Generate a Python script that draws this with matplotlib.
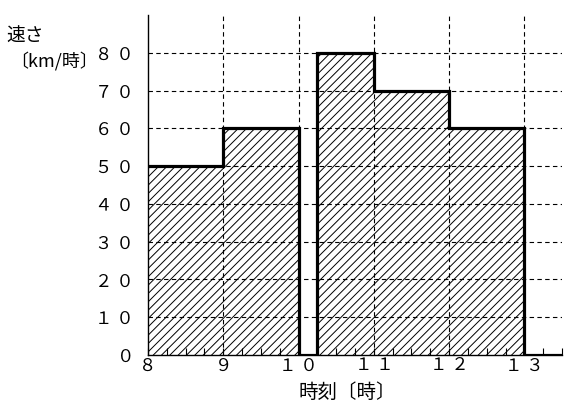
import numpy as np
import matplotlib
matplotlib.use("Agg")
import matplotlib.pyplot as plt
from matplotlib.ticker import MultipleLocator

plt.rcParams['font.family'] = ['Noto Sans CJK JP', 'DejaVu Sans']
plt.rcParams['hatch.linewidth'] = 0.7

# data
edges = [8, 9, 10, 10.25, 11, 12, 13, 13.5]
speeds = [50, 60, 0, 80, 70, 60, 0]
x_ticks = [8, 9, 10, 11, 12, 13]
x_labels = ['８', '９', '１ ０', '１ １', '１ ２', '１ ３']
y_ticks = [0, 10, 20, 30, 40, 50, 60, 70, 80]
y_labels = ['０', '１ ０', '２ ０', '３ ０', '４ ０', '５ ０', '６ ０', '７ ０', '８ ０']

W, H = 574, 411
fig = plt.figure(figsize=(W / 100, H / 100), dpi=100)
ax = fig.add_axes([148 / W, (H - 355) / H, (562 - 148) / W, (355 - 15) / H])

ax.set_xlim(8, 13.5)
ax.set_ylim(0, 90)

widths = np.diff(edges)
ax.bar(edges[:-1], speeds, width=widths, align='edge', fill=False,
       hatch='////', linewidth=0, edgecolor='black', zorder=1)
ax.stairs(speeds, edges, baseline=None, color='black', linewidth=2.3, zorder=4)

for v in range(10, 90, 10):
    ax.axhline(v, color='black', lw=0.8, ls=(0, (4, 3)), zorder=2)
for v in [9, 10, 11, 12, 13]:
    ax.axvline(v, color='black', lw=0.8, ls=(0, (4, 3)), zorder=2)

for s in ['top', 'right']:
    ax.spines[s].set_visible(False)
ax.spines['left'].set_linewidth(1.0)
ax.spines['bottom'].set_linewidth(1.0)

ax.set_xticks(x_ticks)
ax.set_xticklabels(x_labels, fontsize=12.5)
ax.xaxis.set_minor_locator(MultipleLocator(0.25))
ax.tick_params(axis='x', which='both', direction='in', length=5, width=0.8, pad=1)
ax.set_yticks(y_ticks)
ax.set_yticklabels(y_labels, fontsize=12.5)
ax.tick_params(axis='y', which='both', length=0, pad=10)

fig.text(6 / W, 1 - 36 / H, '速さ', fontsize=13.5, va='center', ha='left')
fig.text(10 / W, 1 - 62 / H, '〔km/時〕', fontsize=13, va='center', ha='left')
fig.text(347 / W, 1 - 392 / H, '時刻〔時〕', fontsize=14, va='center', ha='center')

fig.savefig('out.png', dpi=100)
